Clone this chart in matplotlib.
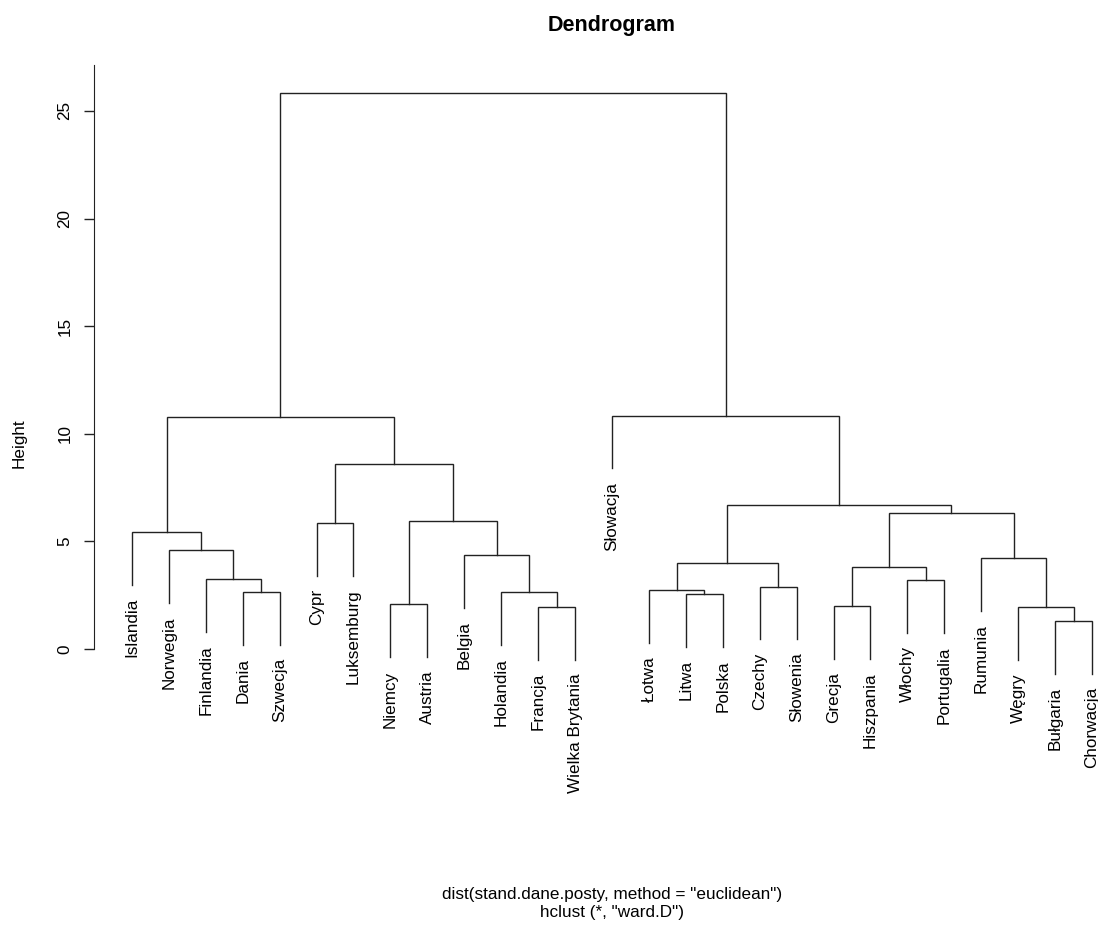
import numpy as np
import matplotlib.pyplot as plt

plt.rcParams['font.family'] = ['Liberation Sans', 'DejaVu Sans']

# leaves in plotting order
labels = ['Islandia', 'Norwegia', 'Finlandia', 'Dania', 'Szwecja', 'Cypr',
          'Luksemburg', 'Niemcy', 'Austria', 'Belgia', 'Holandia', 'Francja',
          'Wielka Brytania', 'Słowacja', 'Łotwa', 'Litwa', 'Polska', 'Czechy',
          'Słowenia', 'Grecja', 'Hiszpania', 'Włochy', 'Portugalia', 'Rumunia',
          'Węgry', 'Bułgaria', 'Chorwacja']

# merge steps: ids < 27 are leaves, 27+k is the cluster made in step k
merges = [(25, 26), (24, 27), (11, 12), (19, 20), (7, 8), (15, 16), (3, 4),
          (10, 29), (14, 32), (17, 18), (2, 33), (21, 22), (35, 36), (30, 38),
          (23, 28), (9, 34), (1, 37), (0, 43), (5, 6), (31, 42), (40, 41),
          (39, 47), (45, 46), (44, 49), (13, 48), (50, 51)]
heights = [1.30, 1.95, 1.95, 2.00, 2.07, 2.54, 2.65, 2.63, 2.74, 2.90, 3.25,
           3.19, 3.98, 3.82, 4.23, 4.35, 4.59, 5.43, 5.85, 5.93, 6.33, 6.71,
           8.60, 10.80, 10.84, 25.82]

n = len(labels)
hang = 0.1 * (max(heights) - min(heights))

fig = plt.figure(figsize=(10.98, 9.25), dpi=100)
ax = fig.add_axes([0.0852, 0.2465, 0.9443, 0.6836])

xs = {i: float(i + 1) for i in range(n)}
hs = {}
lc = '#222222'
for k, (a, b) in enumerate(merges):
    h = heights[k]
    ends = []
    for c in (a, b):
        if c < n:
            ends.append(h - hang)
            ax.annotate(labels[c], (xs[c], h - hang), xytext=(0, -9.5),
                        textcoords='offset points', rotation=90,
                        ha='center', va='top', fontsize=12.3,
                        annotation_clip=False)
        else:
            ends.append(hs[c])
    ax.plot([xs[a], xs[a], xs[b], xs[b]], [ends[0], h, h, ends[1]],
            color=lc, lw=1.0, solid_joinstyle='miter')
    xs[n + k] = (xs[a] + xs[b]) / 2
    hs[n + k] = h

ymin = min(heights) - hang
ymax = max(heights)
ext = 0.04 * (ymax - ymin)
ytop = 27.15
ax.set_ylim(ymin - ext, ytop)
ax.set_xlim(1 - 0.04 * (n - 1), n + 0.04 * (n - 1))

for s in ['top', 'right', 'bottom']:
    ax.spines[s].set_visible(False)
ax.spines['left'].set_bounds(0, ytop)
ax.spines['left'].set_color(lc)
ax.set_xticks([])
ax.set_yticks(np.arange(0, 30, 5))
ax.tick_params(axis='y', length=7.2, width=1.0, color=lc, pad=8,
               labelsize=12.3, labelrotation=90)
for t in ax.get_yticklabels():
    t.set_va('center')
ax.set_ylabel('Height', fontsize=12.3)
ax.yaxis.set_label_coords((19 - 93.6) / 1036.8, (697 - 443) / 632.3)
ax.yaxis.label.set_va('center')

cx = 612 / 1098
fig.text(cx, 1 - 25 / 925, 'Dendrogram', ha='center', va='center',
         fontsize=15.5, fontweight='bold')
fig.text(cx, 1 - 895 / 925, 'dist(stand.dane.posty, method = "euclidean")',
         ha='center', va='center', fontsize=12.3)
fig.text(cx, 1 - 913 / 925, 'hclust (*, "ward.D")',
         ha='center', va='center', fontsize=12.3)

fig.savefig('out.png', dpi=100)
